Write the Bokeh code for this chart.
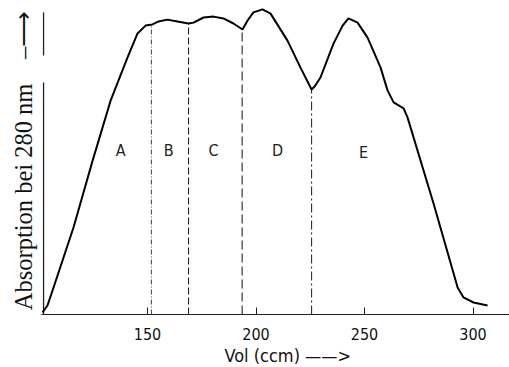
import numpy as np
from bokeh.plotting import figure
from bokeh.models import Label, FixedTicker, Range1d, Title
from bokeh.embed import file_html
from bokeh.resources import INLINE

# elution profile (volume in ccm, absorption in arbitrary units)
vol = [101.6, 103.9, 106.7, 115.9, 124.7, 133.0, 140.8, 145.4, 149.1, 152.3,
       155.1, 159.2, 163.8, 168.9, 171.2, 175.8, 180.4, 185.0, 189.6, 193.8,
       196.1, 198.8, 203.0, 206.7, 214.5, 220.5, 224.2, 225.6, 227.0, 229.7,
       235.7, 239.9, 242.6, 246.8, 251.4, 257.4, 260.6, 263.4, 268.0, 269.8,
       281.8, 292.9, 295.6, 300.2, 306.7]
absorb = [0.7, 3.0, 9.0, 29.0, 51.3, 71.3, 85.7, 93.7, 96.3, 96.7,
          97.7, 98.3, 97.7, 97.0, 97.3, 99.0, 99.3, 98.7, 97.0, 95.0,
          98.0, 100.7, 101.7, 100.3, 91.3, 82.3, 77.0, 75.0, 76.0, 79.0,
          90.3, 96.3, 98.7, 97.3, 92.3, 82.3, 74.7, 70.7, 68.7, 65.7,
          37.0, 9.0, 5.7, 4.0, 3.0]

# fraction boundaries
cuts = [151.8, 168.9, 193.6, 225.6]
cut_dash = ["5 2 1 2", "7 3", "9 4", "9 3 2 3"]
cut_color = ["#555555", "#222222", "#222222", "#333333"]

# fraction names
fractions = ["A", "B", "C", "D", "E"]
frac_x = [137.6, 159.7, 180.4, 209.9, 249.5]
frac_y = [54.7, 54.7, 54.7, 54.7, 54.0]

ticks = [150, 200, 250, 300]

# y-axis line (with the gap seen in the original)
yaxis_x = 102.1
yaxis_parts = [[100.7, 86.3], [77.3, 0.0]]

NARROW = "Liberation Sans Narrow, DejaVu Sans Condensed, Roboto"

X0, X1 = 101.15, 316.8
p = figure(width=509, height=367, output_backend="svg", toolbar_location=None,
           x_range=Range1d(X0, X1), y_range=Range1d(0, 102.67),
           min_border_left=41, min_border_right=0, min_border_top=6, min_border_bottom=53)
p.outline_line_color = None
p.grid.visible = False
p.yaxis.visible = False

ax = p.xaxis[0]
ax.ticker = FixedTicker(ticks=ticks)
ax.minor_tick_line_color = None
ax.major_tick_in = 7
ax.major_tick_out = 0
ax.major_tick_line_color = "#222222"
ax.axis_line_color = "#222222"
ax.axis_line_width = 1.2
ax.major_label_standoff = 13
ax.major_label_text_font = NARROW
ax.major_label_text_font_size = "16px"
ax.major_label_text_color = "#111111"

for part in yaxis_parts:
    p.line([yaxis_x, yaxis_x], part, line_color="#222222", line_width=1.3)

# fraction boundary lines
tops = np.interp(cuts, vol, absorb)
for c, t, d, col in zip(cuts, tops, cut_dash, cut_color):
    p.line([c, c], [0, t], line_color=col, line_width=1.1, line_dash=d)

p.line(vol, absorb, line_color="black", line_width=2)

for f, fx, fy in zip(fractions, frac_x, frac_y):
    p.add_layout(Label(x=fx, y=fy, text=f, text_align="center", text_baseline="middle",
                       text_font=NARROW, text_font_size="16px", text_color="#222222"))

p.add_layout(Title(text="Vol (ccm) \u2014\u2014>", align="left", offset=183,
                   text_font=NARROW, text_font_size="18px", text_font_style="normal",
                   text_color="#111111", standoff=0), "below")
p.add_layout(Title(text="Absorption bei 280 nm\u2003\u2013\u27f6", align="center",
                   text_font="Liberation Serif", text_font_size="24.5px", text_font_style="normal",
                   text_color="#111111", standoff=9), "left")

open("out.html", "w").write(file_html(p, INLINE))
